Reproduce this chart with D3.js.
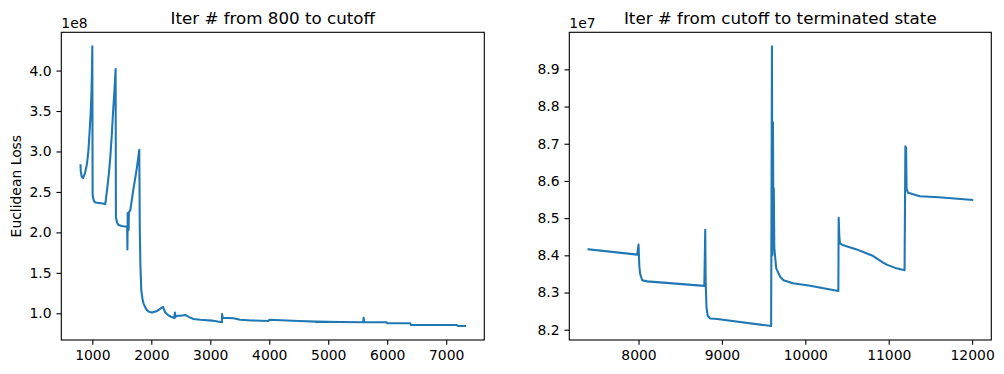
<!DOCTYPE html>
<html>
<head>
<meta charset="utf-8">
<script src="https://cdn.jsdelivr.net/npm/d3@7/dist/d3.min.js"></script>
<style>
  body { margin: 0; background: #fff; }
  svg { display: block; }
</style>
</head>
<body>
<div id="chart"></div>
<script>
// ---- data ----
// left panel: iteration 800 -> cutoff, loss in units of 1e8
const leftIter = [800, 805, 820, 842, 870, 890, 910, 935, 955, 970, 983, 993, 1000,
  1005, 1010, 1025, 1051, 1150, 1220, 1249, 1280, 1305, 1330, 1350, 1375, 1395,
  1400, 1420, 1445, 1500, 1590, 1595, 1600, 1615, 1620, 1643, 1700, 1750, 1796,
  1805, 1815, 1830, 1850, 1869, 1900, 1926, 1960, 2011, 2100, 2197, 2236, 2300,
  2389, 2400, 2405, 2434, 2500, 2575, 2650, 2716, 2829, 3027, 3196, 3200, 3210,
  3393, 3506, 3700, 3986, 4000, 4200, 4500, 4795, 4800, 4805, 5200, 5595, 5600,
  5610, 5990, 6000, 6390, 6400, 7180, 7200, 7320]
const leftLoss = [2.83, 2.75, 2.69, 2.67, 2.72, 2.78, 2.85, 3.02, 3.26, 3.45, 3.67, 3.95, 4.30,
  2.48, 2.44, 2.39, 2.37, 2.36, 2.35, 2.52, 2.72, 2.93, 3.20, 3.47, 3.75, 4.02,
  2.19, 2.12, 2.09, 2.08, 2.07, 1.79, 2.24, 2.03, 2.25, 2.27, 2.55, 2.77, 3.02,
  2.03, 1.60, 1.29, 1.18, 1.12, 1.07, 1.04, 1.02, 1.01, 1.03, 1.08, 1.01, 0.97,
  0.94, 1.01, 0.95, 0.97, 0.97, 0.98, 0.95, 0.93, 0.92, 0.91, 0.89, 0.99, 0.946,
  0.94, 0.92, 0.912, 0.905, 0.92, 0.915, 0.905, 0.897, 0.89, 0.897, 0.893, 0.89, 0.946,
  0.89, 0.89, 0.877, 0.877, 0.856, 0.856, 0.843, 0.843]

// right panel: cutoff -> terminated state, loss in units of 1e7
const rightIter = [7400, 7984, 8000, 8005, 8010, 8020, 8044, 8104, 8789, 8800, 8805,
  8815, 8830, 8860, 8943, 9590, 9600, 9605, 9612, 9618, 9622, 9628, 9651, 9700,
  9738, 9850, 10057, 10396, 10400, 10408, 10416, 10456, 10616, 10815, 10900,
  10975, 11094, 11190, 11200, 11205, 11208, 11214, 11233, 11373, 11600, 12000]
const rightLoss = [8.416, 8.402, 8.429, 8.40, 8.37, 8.35, 8.333, 8.330, 8.318, 8.469, 8.33,
  8.26, 8.237, 8.230, 8.229, 8.210, 8.962, 8.40, 8.758, 8.45, 8.58, 8.42, 8.365, 8.342,
  8.333, 8.325, 8.318, 8.304, 8.501, 8.45, 8.432, 8.427, 8.416, 8.398, 8.385,
  8.375, 8.365, 8.360, 8.693, 8.62, 8.69, 8.579, 8.568, 8.559, 8.556, 8.549]

const leftXTicks = [1000, 2000, 3000, 4000, 5000, 6000, 7000]
const leftYTicks = [1.0, 1.5, 2.0, 2.5, 3.0, 3.5, 4.0]
const rightXTicks = [8000, 9000, 10000, 11000, 12000]
const rightYTicks = [8.2, 8.3, 8.4, 8.5, 8.6, 8.7, 8.8, 8.9]

const panelTitles = ['Iter # from 800 to cutoff', 'Iter # from cutoff to terminated state']
const offsetLabels = ['1e8', '1e7']
const yAxisLabel = 'Euclidean Loss'

const FONT = "'DejaVu Sans', sans-serif"

class LossPanel {
  defaultOption() {
    return {
      left: 0, top: 32.3, width: 423, height: 307.7,
      tickSize: 4.86, tickPad: 4.86,
      color: '#1f77b4'
    }
  }

  constructor(svg, option) {
    this.svg = svg
    this.config = Object.assign(this.defaultOption(), option)
  }

  // matplotlib style 5% margins around the data
  padded(values) {
    const [lo, hi] = d3.extent(values)
    const m = (hi - lo) * 0.05
    return [lo - m, hi + m]
  }

  draw() {
    const c = this.config
    const g = this.svg.append('g')
    const x = d3.scaleLinear().domain(this.padded(c.xs)).range([c.left, c.left + c.width])
    const y = d3.scaleLinear().domain(this.padded(c.ys)).range([c.top + c.height, c.top])

    // clip to axes area
    const clipId = 'clip' + Math.round(c.left)
    g.append('clipPath').attr('id', clipId)
      .append('rect').attr('x', c.left).attr('y', c.top).attr('width', c.width).attr('height', c.height)

    const points = c.xs.map((d, i) => [d, c.ys[i]])
    const line = d3.line().x(d => x(d[0])).y(d => y(d[1]))
    g.append('path')
      .datum(points)
      .attr('clip-path', 'url(#' + clipId + ')')
      .attr('fill', 'none')
      .attr('stroke', c.color)
      .attr('stroke-width', 2.08)
      .attr('stroke-linejoin', 'round')
      .attr('stroke-linecap', 'square')
      .attr('d', line)

    // axes
    const xAxis = d3.axisBottom(x).tickValues(c.xTicks).tickFormat(d3.format('d'))
      .tickSize(c.tickSize).tickPadding(c.tickPad)
    const yAxis = d3.axisLeft(y).tickValues(c.yTicks).tickFormat(d3.format('.1f'))
      .tickSize(c.tickSize).tickPadding(c.tickPad)

    const gx = g.append('g').attr('transform', 'translate(0,' + (c.top + c.height) + ')').call(xAxis)
    const gy = g.append('g').attr('transform', 'translate(' + c.left + ',0)').call(yAxis)
    ;[gx, gy].forEach(a => {
      a.select('.domain').remove()
      a.selectAll('line').attr('stroke', '#000').attr('stroke-width', 1.1)
      a.selectAll('text').attr('fill', '#000').style('font-family', FONT).style('font-size', '13.9px')
    })

    // frame
    g.append('rect')
      .attr('x', c.left).attr('y', c.top).attr('width', c.width).attr('height', c.height)
      .attr('fill', 'none').attr('stroke', '#000').attr('stroke-width', 1.1)

    // title
    g.append('text')
      .text(c.title)
      .attr('x', c.left + c.width / 2).attr('y', 23.7)
      .attr('text-anchor', 'middle')
      .style('font-family', FONT).style('font-size', '16.7px')

    // offset text e.g. 1e8
    g.append('text')
      .text(c.offset)
      .attr('x', c.left).attr('y', 27.5)
      .style('font-family', FONT).style('font-size', '13.9px')

    if (c.yLabel) {
      g.append('text')
        .text(c.yLabel)
        .attr('transform', 'translate(20.8,' + (c.top + c.height / 2) + ') rotate(-90)')
        .attr('text-anchor', 'middle')
        .style('font-family', FONT).style('font-size', '13.9px')
    }
  }
}

const svg = d3.select('#chart').append('svg').attr('width', 1004).attr('height', 374)

new LossPanel(svg, {
  left: 61.3, xs: leftIter, ys: leftLoss, xTicks: leftXTicks, yTicks: leftYTicks,
  title: panelTitles[0], offset: offsetLabels[0], yLabel: yAxisLabel
}).draw()

new LossPanel(svg, {
  left: 569.3, width: 422, xs: rightIter, ys: rightLoss, xTicks: rightXTicks, yTicks: rightYTicks,
  title: panelTitles[1], offset: offsetLabels[1]
}).draw()
</script>
</body>
</html>
